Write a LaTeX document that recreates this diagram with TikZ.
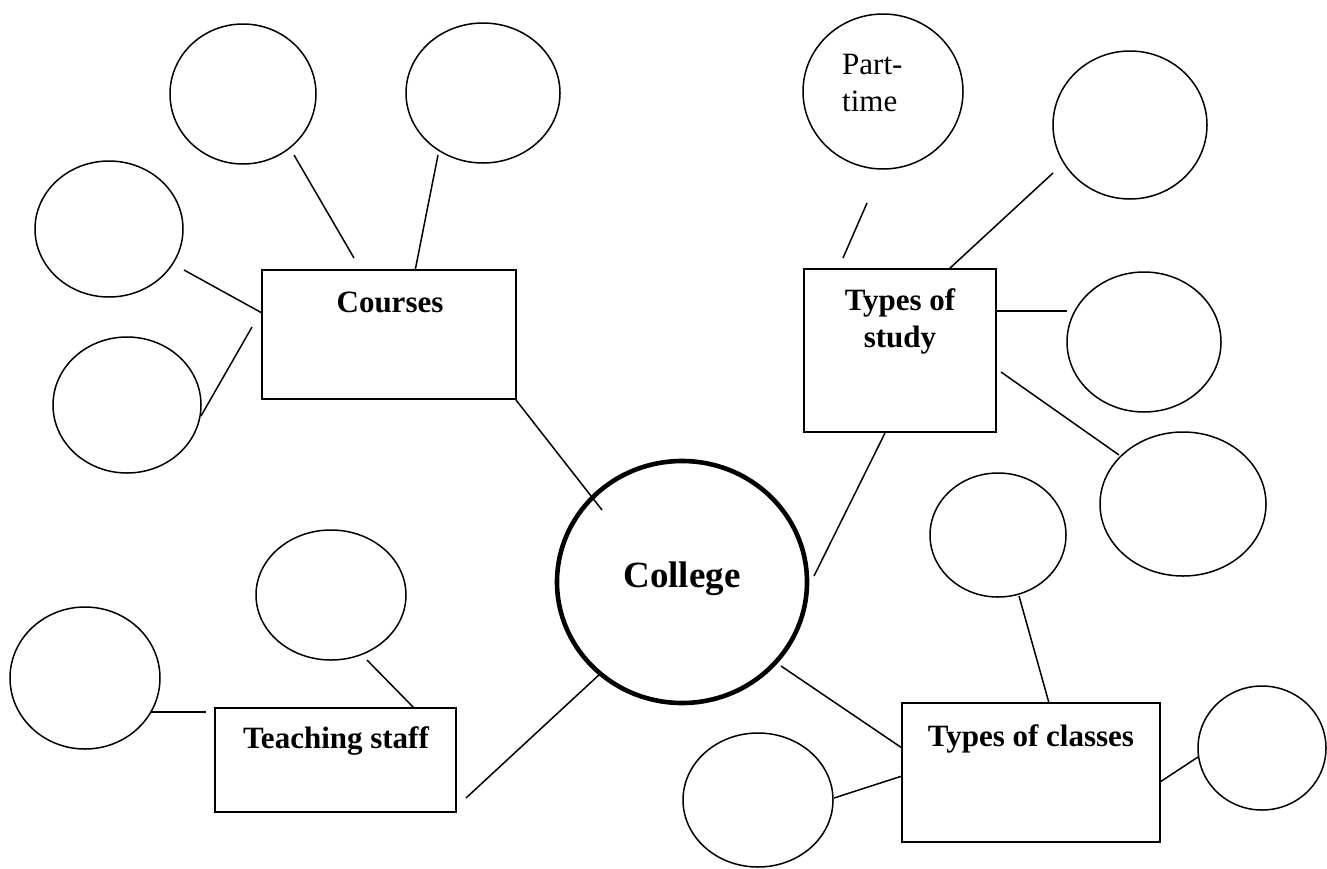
\documentclass[tikz,border=0pt]{standalone}
\usepackage{fontspec}
\setmainfont{Liberation Serif}
\usetikzlibrary{shapes.geometric}
\begin{document}
\begin{tikzpicture}[x=1pt,y=-1pt,
  bubble/.style={draw, ellipse, line width=1.5pt, inner sep=0pt},
  hub/.style={draw, ellipse, line width=4.6pt, inner sep=0pt, minimum width=250pt, minimum height=242pt},
  topicbox/.style={draw, rectangle, line width=1.5pt, inner sep=0pt},
  conn/.style={line width=1.5pt},
  title/.style={font=\fontsize{31}{37}\selectfont\bfseries, anchor=base, inner sep=0pt, align=center},
  plain/.style={font=\fontsize{31}{37}\selectfont, anchor=base west, inner sep=0pt, align=left}]
\useasboundingbox (0,0) rectangle (1327,868);

% central node
\node[hub] (college) at (682,582) {};
\node[title, font=\fontsize{37}{40}\selectfont\bfseries] (collegetext) at (682,587) {College};

% boxes
\node[topicbox, minimum width=254pt, minimum height=129pt] (courses) at (389,334.5) {};
\node[title] (coursestext) at (390,312) {Courses};
\node[topicbox, minimum width=192pt, minimum height=163pt] (study) at (900,350.5) {};
\node[title] (studytext1) at (900,310) {Types of};
\node[title] (studytext2) at (900,347) {study};
\node[topicbox, minimum width=258pt, minimum height=139pt] (classes) at (1031,772.5) {};
\node[title] (classestext) at (1031,746) {Types of classes};
\node[topicbox, minimum width=241pt, minimum height=104pt] (teaching) at (335.5,760) {};
\node[title] (teachingtext) at (336,748) {Teaching staff};

% bubbles
\node[bubble, minimum width=146pt, minimum height=140pt] (e1) at (243,94) {};
\node[bubble, minimum width=154pt, minimum height=140pt] (e2) at (483,93) {};
\node[bubble, minimum width=148pt, minimum height=136pt] (e3) at (109,229) {};
\node[bubble, minimum width=148pt, minimum height=136pt] (e4) at (127,405) {};
\node[bubble, minimum width=160pt, minimum height=155pt] (pt) at (883,91.5) {};
\node[plain] (pttext1) at (842,74) {Part-};
\node[plain] (pttext2) at (842,111) {time};
\node[bubble, minimum width=154pt, minimum height=148pt] (e6) at (1130,125) {};
\node[bubble, minimum width=154pt, minimum height=140pt] (e7) at (1144,342) {};
\node[bubble, minimum width=166pt, minimum height=144pt] (e8) at (1183,504) {};
\node[bubble, minimum width=136pt, minimum height=124pt] (e9) at (998,535) {};
\node[bubble, minimum width=150pt, minimum height=134pt] (e10) at (758,800) {};
\node[bubble, minimum width=128pt, minimum height=124pt] (e11) at (1262,748) {};
\node[bubble, minimum width=150pt, minimum height=130pt] (e12) at (331,595) {};
\node[bubble, minimum width=150pt, minimum height=142pt] (e13) at (85,678) {};

% connector end points
\coordinate (l1a) at (294,155);  \coordinate (l1b) at (354,258);
\coordinate (l2a) at (438,155);  \coordinate (l2b) at (415,271);
\coordinate (l3a) at (184,270);  \coordinate (l3b) at (262,313);
\coordinate (l4a) at (252,327);  \coordinate (l4b) at (201,416);
\coordinate (l5a) at (516,400);  \coordinate (l5b) at (602,510);
\coordinate (l6a) at (867,203);  \coordinate (l6b) at (843,258);
\coordinate (l7a) at (1053,173); \coordinate (l7b) at (949,269);
\coordinate (l8a) at (996,311);  \coordinate (l8b) at (1067,311);
\coordinate (l9a) at (1001,372); \coordinate (l9b) at (1119,455);
\coordinate (l10a) at (885,433); \coordinate (l10b) at (814,576);
\coordinate (l11a) at (1019,596); \coordinate (l11b) at (1049,703);
\coordinate (l12a) at (781,666); \coordinate (l12b) at (902,748);
\coordinate (l13a) at (834,798); \coordinate (l13b) at (902,776);
\coordinate (l14a) at (1160,782); \coordinate (l14b) at (1198,757);
\coordinate (l15a) at (367,660); \coordinate (l15b) at (414,708);
\coordinate (l16a) at (151,712); \coordinate (l16b) at (206,712);
\coordinate (l17a) at (466,798); \coordinate (l17b) at (601,673);

\foreach \i in {1,...,17} {\draw[conn] (l\i a) -- (l\i b);}
\end{tikzpicture}
\end{document}
